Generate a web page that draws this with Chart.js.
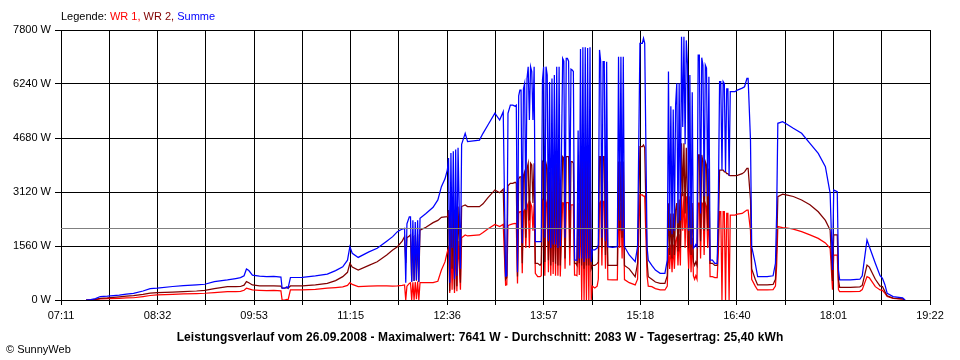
<!DOCTYPE html>
<html>
<head>
<meta charset="utf-8">
<script src="https://cdn.jsdelivr.net/npm/chart.js@4"></script>
<style>
  body { margin: 0; background: #fff; }
  #wrap { position: relative; width: 960px; height: 360px; background: #fff; }
  .txt { position: absolute; font: 11px "Liberation Sans", Arial, sans-serif; line-height: 14px; white-space: nowrap; color: #000; }
  #titel { left: 0; width: 960px; text-align: center; font-weight: bold; font-size: 12px; letter-spacing: 0.1px; top: 330px; }
</style>
</head>
<body>
<div id="wrap">
  <canvas id="c" width="960" height="360"></canvas>
  <div class="txt" style="left:61px;top:9px">Legende: <span style="color:#ff0000">WR 1,</span> <span style="color:#800000">WR 2,</span> <span style="color:#0000ff">Summe</span></div>
  <div class="txt" id="titel">Leistungsverlauf vom 26.09.2008 - Maximalwert: 7641 W - Durchschnitt: 2083 W - Tagesertrag: 25,40 kWh</div>
  <div class="txt" style="left:6px;top:342px">© SunnyWeb</div>
</div>
<script>
// x axis labels (every other grid line gets one)
const tickLabels = ['07:11', '08:32', '09:53', '11:15', '12:36', '13:57', '15:18', '16:40', '18:01', '19:22'];
const durchschnitt = 2083;

const times = [
  '07:32','07:36','07:40','07:44','07:50','08:00','08:06','08:12','08:20','08:26',
  '08:32','08:45','08:54','09:05','09:12','09:20','09:31','09:38','09:42','09:45',
  '09:47','09:49','09:52','09:58','10:04','10:10','10:16','10:17','10:19','10:21',
  '10:22','10:24','10:34','10:45','10:55','11:02','11:08','11:12','11:14','11:16',
  '11:21','11:30','11:37','11:45','11:50','11:54','11:58','12:00','12:01','12:02',
  '12:04','12:05','12:06','12:07','12:08','12:09','12:10','12:11','12:12','12:13',
  '12:18','12:24','12:28','12:31','12:34','12:36','12:37','12:38','12:39','12:40',
  '12:41','12:42','12:43','12:44','12:45','12:47','12:48','12:51','12:53','13:03',
  '13:06','13:10','13:16','13:20','13:23','13:25','13:26','13:27','13:29','13:31',
  '13:33','13:34','13:35','13:36','13:37','13:38','13:39','13:40','13:41','13:42',
  '13:43','13:44','13:45','13:46','13:47','13:48','13:49','13:50','13:52','13:54',
  '13:55','13:56','13:57','13:58','13:59','14:00','14:01','14:02','14:03','14:04',
  '14:05','14:06','14:07','14:08','14:09','14:10','14:11','14:13','14:14','14:15',
  '14:16','14:17','14:18','14:19','14:20','14:21','14:22','14:23','14:24','14:25',
  '14:26','14:27','14:28','14:29','14:30','14:31','14:32','14:33','14:34','14:35',
  '14:36','14:37','14:38','14:40','14:42','14:43','14:44','14:45','14:46','14:47',
  '14:48','14:49','14:50','14:51','14:55','14:59','15:00','15:01','15:02','15:03',
  '15:04','15:05','15:09','15:14','15:16','15:18','15:20','15:21','15:22','15:24',
  '15:25','15:28','15:31','15:35','15:39','15:41','15:42','15:43','15:44','15:45',
  '15:46','15:47','15:48','15:49','15:50','15:51','15:52','15:53','15:54','15:55',
  '15:56','15:57','15:58','15:59','16:00','16:01','16:02','16:03','16:04','16:05',
  '16:06','16:07','16:08','16:09','16:10','16:11','16:12','16:13','16:14','16:15',
  '16:16','16:17','16:19','16:21','16:23','16:24','16:25','16:26','16:27','16:28',
  '16:29','16:30','16:31','16:32','16:33','16:34','16:38','16:40','16:44','16:46',
  '16:48','16:49','16:51','16:52','16:55','16:57','17:05','17:10','17:12','17:13',
  '17:14','17:18','17:22','17:27','17:34','17:41','17:48','17:54','17:58','18:00',
  '18:01','18:04','18:05','18:06','18:15','18:23','18:25','18:29','18:31','18:36',
  '18:40','18:42','18:44','18:46','18:51','18:59','19:01'
];

// WR 1 (red)
const wr1 = [
  0,0,10,30,40,50,60,65,100,130,
  145,160,175,185,195,215,240,240,250,280,
  340,320,290,280,270,275,265,0,0,20,
  0,290,290,310,340,360,380,420,500,450,
  385,400,405,405,400,405,420,435,0,400,
  480,500,0,510,0,520,20,530,0,500,
  500,500,540,865,1100,1395,1500,200,1550,300,
  1600,200,1650,250,1700,300,1800,1880,1850,1880,
  1950,2050,2185,2120,2185,430,440,2150,2180,2200,
  2215,2200,480,2500,2550,2550,770,2550,2600,1500,
  2700,2795,1500,2795,2700,2000,2795,770,675,675,
  700,2900,2850,700,2850,2700,800,2600,700,2700,
  750,2750,700,2795,700,2800,680,2810,2800,900,
  2810,2810,2812,1000,2745,2745,2745,720,720,700,
  1800,720,2900,0,2944,0,2944,0,2944,0,
  2944,0,400,350,400,600,2800,2850,1000,2850,
  2850,900,2850,590,580,580,2800,1500,2800,1200,
  2800,590,500,435,600,3035,3035,3000,3000,700,
  400,385,330,290,290,400,1500,900,1600,800,
  1600,900,1700,1800,1000,1900,1000,3080,2000,3080,
  1500,3000,1700,900,2000,800,1800,700,600,700,
  600,2800,2800,1200,2800,2795,1300,2795,2700,1500,
  2650,675,675,650,650,1400,2550,2550,0,2550,
  2550,0,2500,2500,0,2455,2455,2480,2500,2550,
  2600,2600,2000,600,400,290,290,300,400,1000,
  2120,2090,2080,2050,1975,1880,1780,1650,1495,300,
  1300,1300,300,240,240,250,300,675,640,385,
  290,280,200,100,45,25,0
];

// WR 2 (dark red)
const wr2 = [
  0,0,20,50,60,90,110,125,160,200,
  210,230,240,260,280,330,385,385,390,430,
  530,500,435,410,405,410,400,340,340,360,
  340,405,405,440,480,560,675,800,1060,950,
  865,1000,1105,1300,1445,1540,1700,1830,1070,1800,
  1850,1880,530,1850,550,1880,560,1900,520,2020,
  2100,2235,2300,2390,2400,2405,2600,250,2650,900,
  2700,300,2700,400,2700,500,2700,2745,2700,2695,
  2780,2950,3180,3100,3200,600,650,3300,3370,3370,
  3400,3370,680,3500,3560,3560,1060,3600,3700,1800,
  3800,3950,2300,3950,3900,2800,3950,1060,1060,1000,
  1060,4000,3950,1100,3950,3800,1150,3700,1000,3800,
  1100,3900,1050,3950,1000,4000,1000,4140,4100,1200,
  4140,4140,4141,1500,4000,4000,3950,1060,1060,1000,
  2800,1060,4300,1000,4330,900,4330,1000,4330,1000,
  4330,900,1000,1000,1050,1100,4141,4141,1500,4141,
  4141,1300,4100,1000,1000,1000,4000,2000,4000,1800,
  4000,1000,900,675,1060,4430,4430,4480,4400,1100,
  675,600,520,480,480,700,2795,1300,2500,1200,
  2500,1300,2600,2800,1400,2900,1500,4525,3000,4525,
  2500,4400,3000,1500,3000,1300,2800,1100,1000,1100,
  1000,4190,4190,1700,4190,4000,2000,4000,3900,2000,
  3800,1060,1060,1000,1000,2000,3755,3755,3755,3755,
  3700,3700,3650,3650,3600,3590,3590,3600,3650,3700,
  3800,3800,2900,900,600,435,435,450,600,1500,
  2985,3060,3030,2990,2890,2750,2550,2300,2020,550,
  1880,1880,580,365,365,380,420,1010,950,600,
  400,390,250,120,55,35,0
];

// Summe (blue)
const summe = [
  0,10,40,100,110,140,170,190,260,330,
  340,390,415,440,455,530,580,620,645,700,
  895,850,720,690,675,680,660,340,340,380,
  340,650,655,700,750,850,960,1150,1540,1350,
  1230,1390,1495,1700,1830,1975,2050,2070,500,2200,
  2405,2405,530,2300,550,2250,580,2300,530,2360,
  2500,2680,2890,3275,3500,3755,4100,500,4250,1500,
  4300,600,4350,700,4400,900,4500,4815,4575,4620,
  4815,5050,5395,5200,5440,690,700,5395,5630,5630,
  5600,5630,800,5900,6065,6065,1640,6100,6260,2600,
  6400,6740,5200,6740,6600,5200,6740,1685,1685,1685,
  1685,6355,6740,1800,6740,6500,1700,6300,1500,6400,
  1600,6500,1600,6740,1500,6740,1550,6980,6900,1800,
  6980,6980,6900,2600,6670,6645,6600,1155,1155,1150,
  4900,1200,7250,1200,7300,1100,7300,1200,7280,1200,
  7300,1100,1450,1450,1500,1600,7225,6885,1800,6885,
  6885,1700,6885,1540,1520,1540,7030,2300,7030,2000,
  7030,1540,1300,1110,1540,7415,7415,7560,7415,1540,
  1155,1000,865,770,770,1155,6600,2000,5600,1900,
  5500,2000,5630,6260,2215,6260,2300,7605,5000,7605,
  4500,7500,6800,2000,6500,1600,6000,1500,1540,1600,
  1540,7075,7075,2500,7000,6790,3000,6790,6700,3000,
  6450,1155,1155,1060,1060,3000,6310,6310,3755,6310,
  6250,3700,6100,6100,3600,6020,6020,6065,6120,6160,
  6400,6400,4620,1540,1060,675,675,700,1060,2500,
  5105,5150,5070,4960,4815,4525,4235,3850,3080,865,
  3180,3130,865,580,580,600,700,1735,1540,1060,
  700,625,450,190,100,60,0
];

const toMin = t => { const [h, m] = t.split(':').map(Number); return h * 60 + m; };
const xMin = toMin(tickLabels[0]);
const xMax = toMin(tickLabels[tickLabels.length - 1]);
const pts = vals => times.map((t, i) => ({ x: toMin(t), y: vals[i] }));

const font = { family: '"Liberation Sans", Arial, sans-serif', size: 11 };

// grey average line, drawn crisp on top of the series
const mittelLinie = {
  id: 'mittelLinie',
  afterDatasetsDraw(chart) {
    const { ctx, chartArea: a, scales: { y } } = chart;
    const py = Math.round(y.getPixelForValue(durchschnitt)) + 0.5;
    ctx.save();
    ctx.strokeStyle = '#808080';
    ctx.lineWidth = 1;
    ctx.beginPath();
    ctx.moveTo(a.left, py);
    ctx.lineTo(a.right, py);
    ctx.stroke();
    ctx.restore();
  }
};

new Chart(document.getElementById('c'), {
  type: 'line',
  data: {
    datasets: [
      { label: 'Summe', data: pts(summe), borderColor: '#0000ff' },
      { label: 'WR 2', data: pts(wr2), borderColor: '#800000' },
      { label: 'WR 1', data: pts(wr1), borderColor: '#ff0000' }
    ]
  },
  plugins: [mittelLinie],
  options: {
    responsive: false,
    animation: false,
    devicePixelRatio: 1,
    layout: { padding: { top: 30, right: 30, left: 0, bottom: 0 } },
    elements: {
      line: { borderWidth: 1.25, tension: 0, fill: false },
      point: { radius: 0 }
    },
    plugins: { legend: { display: false }, tooltip: { enabled: false } },
    scales: {
      x: {
        type: 'linear',
        min: xMin,
        max: xMax,
        afterBuildTicks: axis => {
          const n = (tickLabels.length - 1) * 2;
          axis.ticks = [];
          for (let i = 0; i <= n; i++) axis.ticks.push({ value: xMin + (xMax - xMin) * i / n });
        },
        afterFit: s => { s.height = 60; },
        ticks: {
          autoSkip: false, maxRotation: 0, color: '#000', font, padding: 4,
          callback: (v, i) => (i % 2 === 0 ? tickLabels[i / 2] : '')
        },
        grid: { color: '#000', lineWidth: 1, tickLength: 5 },
        border: { color: '#000' }
      },
      y: {
        min: 0,
        max: 7800,
        afterFit: s => { s.width = 61; },
        ticks: { stepSize: 1560, color: '#000', font, padding: 4, callback: v => v + ' W' },
        grid: { color: '#000', lineWidth: 1, tickLength: 6 },
        border: { color: '#000' }
      }
    }
  }
});
</script>
</body>
</html>
